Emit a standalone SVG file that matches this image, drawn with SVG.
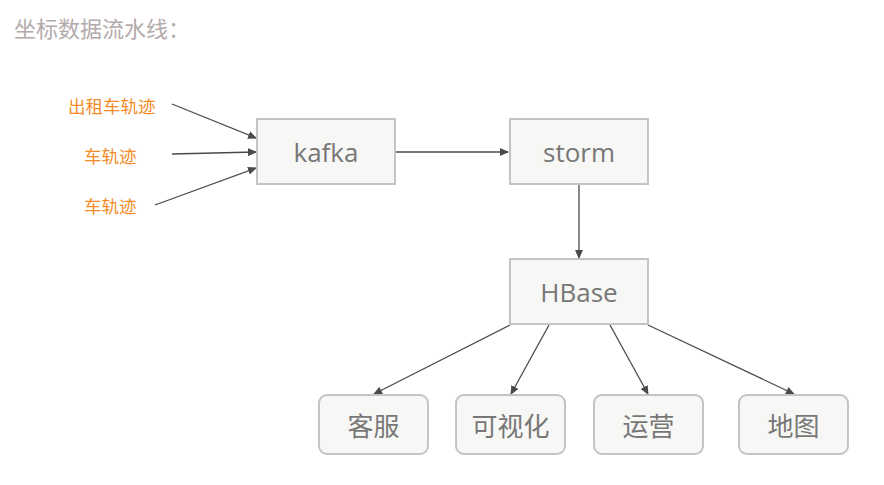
<svg xmlns="http://www.w3.org/2000/svg" width="884" height="485" viewBox="0 0 884 485">
<style>
.title{font-family:"Noto Sans CJK SC","Noto Sans",sans-serif;font-size:22px;fill:#b3abab}
.src{font-family:"Noto Sans CJK SC","Noto Sans",sans-serif;font-size:17.5px;fill:#f28c28}
.box{fill:#f7f7f5;stroke:#c4c4c2;stroke-width:2}
.lbl{font-family:"Open Sans","Noto Sans CJK SC",sans-serif;font-size:26px;fill:#777777;text-anchor:middle;dominant-baseline:central}
.zh{font-family:"Noto Sans CJK SC",sans-serif;font-size:26px;fill:#777777;text-anchor:middle;dominant-baseline:central}
.edge{stroke:#4a4a4a;stroke-width:1.3;fill:none;marker-end:url(#ah)}
</style>
<defs>
<marker id="ah" markerWidth="9" markerHeight="8" refX="8" refY="4" orient="auto" markerUnits="userSpaceOnUse">
<path d="M0,0 L9,4 L0,8 Z" fill="#4a4a4a"/>
</marker>
</defs>
<rect width="884" height="485" fill="#ffffff"/>
<text class="title" x="14" y="37">坐标数据流水线：</text>
<g id="src1"><text class="src" x="68" y="113">出租车轨迹</text></g>
<g id="src2"><text class="src" x="84" y="163">车轨迹</text></g>
<g id="src3"><text class="src" x="84" y="213">车轨迹</text></g>
<g id="edges">
<line class="edge" x1="172" y1="104" x2="256" y2="138"/>
<line class="edge" x1="172" y1="154" x2="256" y2="152"/>
<line class="edge" x1="155" y1="205" x2="256" y2="168"/>
<line class="edge" x1="396" y1="152" x2="508" y2="152"/>
<line class="edge" x1="579" y1="185" x2="579" y2="258"/>
<line class="edge" x1="510" y1="325" x2="374" y2="394"/>
<line class="edge" x1="549" y1="325" x2="511" y2="394"/>
<line class="edge" x1="610" y1="325" x2="648" y2="394"/>
<line class="edge" x1="648" y1="325" x2="794" y2="394"/>
</g>
<g id="kafka"><rect class="box" x="257" y="119" width="138" height="65"/><text class="lbl" x="326" y="152">kafka</text></g>
<g id="storm"><rect class="box" x="510" y="119" width="138" height="65"/><text class="lbl" x="579" y="152">storm</text></g>
<g id="hbase"><rect class="box" x="510" y="259" width="138" height="65"/><text class="lbl" x="579" y="292">HBase</text></g>
<g id="kefu"><rect class="box" x="319" y="395" width="109" height="59" rx="8"/><text class="zh" x="373.5" y="424">客服</text></g>
<g id="keshihua"><rect class="box" x="456" y="395" width="109" height="59" rx="8"/><text class="zh" x="510.5" y="424">可视化</text></g>
<g id="yunying"><rect class="box" x="594" y="395" width="109" height="59" rx="8"/><text class="zh" x="648.5" y="424">运营</text></g>
<g id="ditu"><rect class="box" x="739" y="395" width="109" height="59" rx="8"/><text class="zh" x="793.5" y="424">地图</text></g>
</svg>
